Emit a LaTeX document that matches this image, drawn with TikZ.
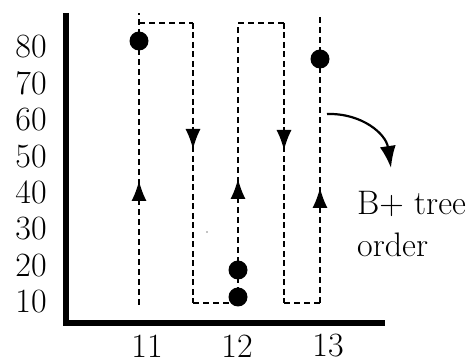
\documentclass[tikz,border=0pt]{standalone}
\usepackage{fontspec}
\usetikzlibrary{arrows.meta}
\begin{document}
\begin{tikzpicture}[x=1pt,y=-1pt,
  axisline/.style={line width=6pt},
  colline/.style={line width=1.3pt,dash pattern=on 5.5pt off 4.5pt},
  loopline/.style={line width=2.2pt,dash pattern=on 6pt off 3.5pt},
  linkline/.style={line width=1.8pt,dash pattern=on 6pt off 4pt},
  tipup/.style={-{Latex[length=20pt,width=15pt]},line width=1.3pt},
  ptdot/.style={circle,fill=black,inner sep=0pt,minimum size=19pt},
  lab/.style={font=\fontsize{34}{40}\selectfont,inner sep=0pt},
  curvarrow/.style={line width=2.2pt,-{Latex[length=22pt,width=16pt]}}]
\useasboundingbox (0,0) rectangle (475,363);
% axes
\coordinate (atop) at (66,13);
\coordinate (aorig) at (66,323);
\coordinate (aright) at (385,323);
\draw[axisline,line join=miter] (atop) -- (aorig) -- (aright);
% y labels
\foreach \v [count=\i from 0] in {80,70,60,50,40,30,20,10}
  \node[lab] (y\v) at (31,47+36.4*\i) {\v};
% x labels
\node[lab] (x11) at (147,346) {11};
\node[lab] (x12) at (237,346) {12};
\node[lab] (x13) at (328,346) {13};
% path corners
\coordinate (c11b) at (139,305);
\coordinate (c11t) at (139,13);
\coordinate (c11c) at (139,23);
\coordinate (l1t) at (193,23);
\coordinate (l1b) at (193,303);
\coordinate (c12b) at (238,303);
\coordinate (c12t) at (238,23);
\coordinate (l2t) at (284,23);
\coordinate (l2b) at (284,303);
\coordinate (c13b) at (320,303);
\coordinate (c13t) at (320,15);
% column lines
\draw[colline] (c11b) -- (c11t);
\draw[colline] (c12b) -- (c12t);
\draw[colline] (c13b) -- (c13t);
% connecting loops
\draw[linkline] (c11c) -- (l1t);
\draw[loopline] (l1t) -- (l1b);
\draw[linkline] (l1b) -- (c12b);
\draw[linkline] (c12t) -- (l2t);
\draw[loopline] (l2t) -- (l2b);
\draw[linkline] (l2b) -- (c13b);
% arrow tips
\coordinate (a11s) at (139,201); \coordinate (a11e) at (139,181);
\coordinate (a12s) at (238,199); \coordinate (a12e) at (238,179);
\coordinate (a13s) at (320,210); \coordinate (a13e) at (320,188);
\coordinate (d1s) at (193,127); \coordinate (d1e) at (193,149);
\coordinate (d2s) at (284,127); \coordinate (d2e) at (284,150);
\draw[tipup] (a11s) -- (a11e);
\draw[tipup] (a12s) -- (a12e);
\draw[tipup] (a13s) -- (a13e);
\draw[tipup] (d1s) -- (d1e);
\draw[tipup] (d2s) -- (d2e);
% points
\node[ptdot] (p1) at (139,41) {};
\node[ptdot] (p2) at (320,59) {};
\node[ptdot] (p3) at (238,270) {};
\node[ptdot] (p4) at (238,297) {};
\fill (207,232) circle (0.7pt);
% curved arrow and label
\coordinate (cs) at (327,114);
\coordinate (ce) at (391,168);
\draw[curvarrow] (cs) .. controls (362,113) and (386,134) .. (ce);
\node[lab,anchor=base west] (t1) at (357,215) {B+ tree};
\node[lab,anchor=base west] (t2) at (357,257) {order};
\end{tikzpicture}
\end{document}
